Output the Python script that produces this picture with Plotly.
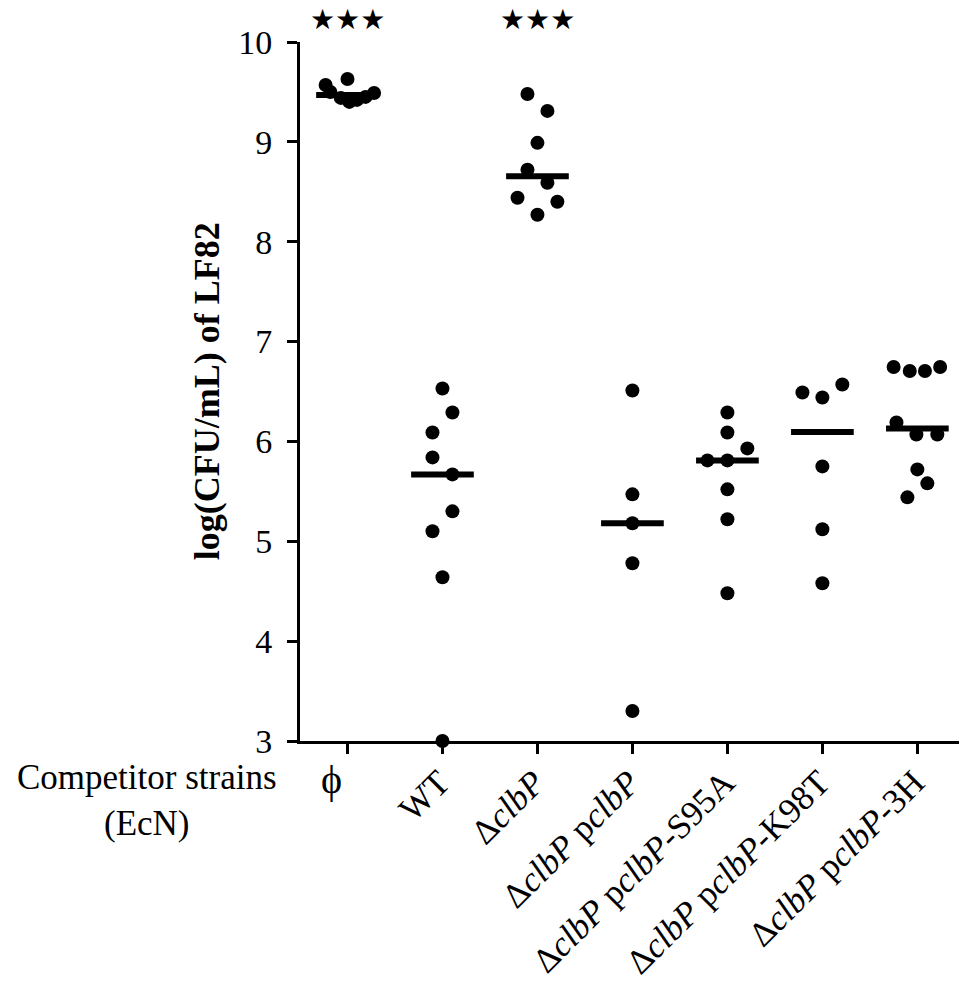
import numpy as np
import plotly.graph_objects as go

# ---------------- data ----------------
categories = ["ϕ", "WT", "ΔclbP", "ΔclbP pclbP", "ΔclbP pclbP-S95A",
              "ΔclbP pclbP-K98T", "ΔclbP pclbP-3H"]
tick_labels = ["",
               "WT",
               "Δ<i>clbP</i>",
               "Δ<i>clbP</i> p<i>clbP</i>",
               "Δ<i>clbP</i> p<i>clbP</i>-S95A",
               "Δ<i>clbP</i> p<i>clbP</i>-K98T",
               "Δ<i>clbP</i> p<i>clbP</i>-3H"]

vals_phi = [9.57, 9.63, 9.50, 9.44, 9.40, 9.42, 9.45, 9.49]
vals_wt = [6.53, 6.29, 6.09, 5.84, 5.67, 5.30, 5.10, 4.64, 3.00]
vals_dclbp = [9.48, 9.31, 8.99, 8.72, 8.59, 8.44, 8.40, 8.27]
vals_pclbp = [6.51, 5.47, 5.18, 4.78, 3.30]
vals_s95a = [6.29, 6.09, 5.93, 5.81, 5.81, 5.52, 5.22, 4.48]
vals_k98t = [6.49, 6.44, 6.57, 5.75, 5.12, 4.58]
vals_3h = [6.745, 6.705, 6.705, 6.745, 6.19, 6.07, 6.07, 5.72, 5.58, 5.44]

# horizontal scatter (beeswarm) offsets, in category units
jit_phi = [-0.23, 0.0, -0.18, -0.07, 0.02, 0.10, 0.19, 0.28]
jit_wt = [0.0, 0.105, -0.105, -0.105, 0.105, 0.105, -0.105, 0.0, 0.0]
jit_dclbp = [-0.105, 0.105, 0.0, -0.105, 0.105, -0.21, 0.21, 0.0]
jit_pclbp = [0.0, 0.0, 0.0, 0.0, 0.0]
jit_s95a = [0.0, 0.0, 0.21, -0.21, 0.0, 0.0, 0.0, 0.0]
jit_k98t = [-0.21, 0.0, 0.21, 0.0, 0.0, 0.0]
jit_3h = [-0.25, -0.08, 0.08, 0.24, -0.22, -0.01, 0.21, 0.0, 0.105, -0.105]

groups = [vals_phi, vals_wt, vals_dclbp, vals_pclbp, vals_s95a, vals_k98t, vals_3h]
jitters = [jit_phi, jit_wt, jit_dclbp, jit_pclbp, jit_s95a, jit_k98t, jit_3h]
significance = ["★★★", "", "★★★", "", "", "", ""]

yticks = [3, 4, 5, 6, 7, 8, 9, 10]

FONT = "Liberation Serif, Times New Roman, serif"

fig = go.Figure()

for i, (vals, jit) in enumerate(zip(groups, jitters)):
    xs = [i + j for j in jit]
    fig.add_trace(go.Scatter(
        x=xs, y=vals, mode="markers",
        marker=dict(color="black", size=14),
        cliponaxis=False, showlegend=False, hoverinfo="y"))
    med = float(np.median(vals))
    fig.add_trace(go.Scatter(
        x=[i - 0.33, i + 0.33], y=[med, med], mode="lines",
        line=dict(color="black", width=6),
        cliponaxis=False, showlegend=False, hoverinfo="skip"))

annotations = []
for i, s in enumerate(significance):
    if s:
        annotations.append(dict(
            x=i, y=1.033, xref="x", yref="paper", text=s, showarrow=False,
            font=dict(family="DejaVu Sans", size=28, color="black"),
            height=24, valign="middle",
            xanchor="center", yanchor="middle"))

# phi label (upright)
annotations.append(dict(
    x=-0.17, xref="x", y=-0.055, yref="paper", text="ϕ", showarrow=False,
    font=dict(family=FONT, size=40, color="black"),
    xanchor="center", yanchor="middle"))

# x-axis caption
annotations.append(dict(
    x=-0.231, xref="paper", y=-0.022, yref="paper",
    text="Competitor strains<br>(EcN)", showarrow=False, align="center",
    font=dict(family=FONT, size=35, color="black"),
    xanchor="center", yanchor="top"))

# y-axis title
annotations.append(dict(
    x=-0.141, xref="paper", y=0.5, yref="paper",
    text="<b>log(CFU/mL) of LF82</b>", showarrow=False, textangle=-90,
    font=dict(family=FONT, size=36, color="black"),
    xanchor="center", yanchor="middle"))

fig.update_layout(
    width=959, height=977,
    margin=dict(l=292, r=5, t=34, b=244, autoexpand=False),
    paper_bgcolor="white", plot_bgcolor="white",
    annotations=annotations,
    font=dict(family=FONT, size=34, color="black"),
)

fig.update_xaxes(
    range=[-0.5, 6.47], automargin=False,
    tickmode="array", tickvals=list(range(len(categories))), ticktext=tick_labels,
    tickangle=-45,
    showline=True, linecolor="black", linewidth=3,
    ticks="outside", ticklen=10, tickwidth=3, tickcolor="black",
    ticklabelstandoff=-6, ticklabelshift=-3,
    showgrid=False, zeroline=False,
    tickfont=dict(family=FONT, size=35, color="black"),
)
fig.update_yaxes(
    range=[3, 10], automargin=False,
    tickmode="array", tickvals=yticks, ticktext=[str(t) for t in yticks],
    showline=True, linecolor="black", linewidth=3,
    ticks="outside", ticklen=10, tickwidth=3, tickcolor="black",
    ticklabelstandoff=8,
    showgrid=False, zeroline=False,
    tickfont=dict(family=FONT, size=34, color="black"),
)

fig.write_html("out.html")
